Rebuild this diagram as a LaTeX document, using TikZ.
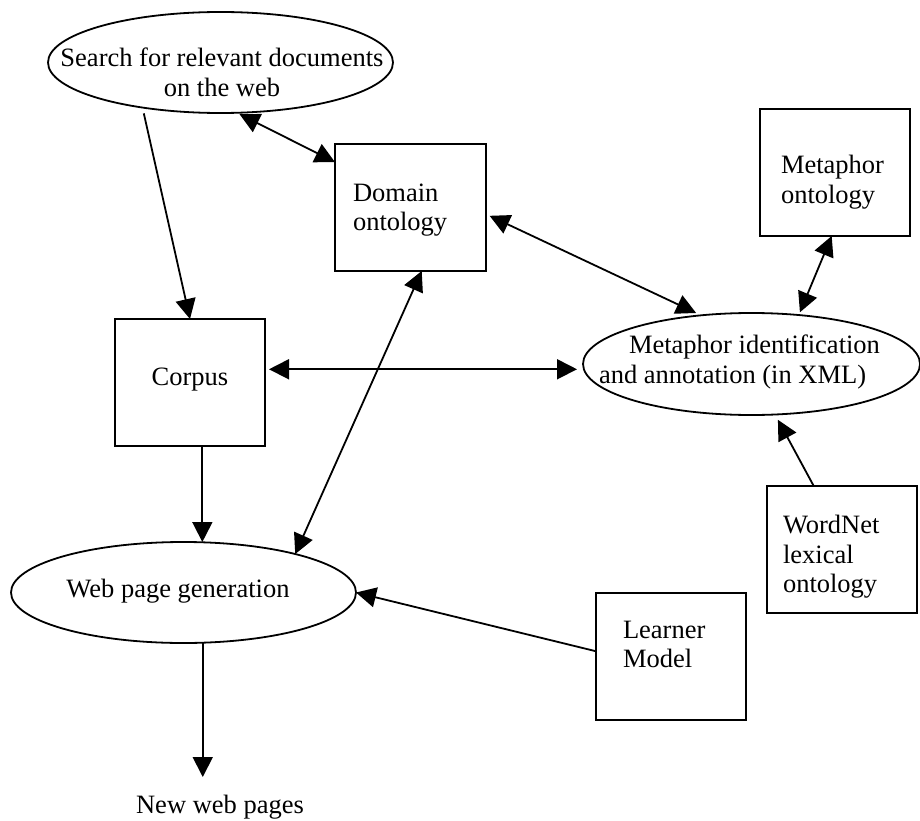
\documentclass[tikz,border=0pt]{standalone}
\usepackage{fontspec}
\setmainfont{Liberation Serif}
\usetikzlibrary{shapes.geometric,arrows.meta}
\tikzset{
  box/.style={draw, line width=1.8pt, rectangle, minimum width=150pt, minimum height=127pt, inner sep=0pt, outer sep=0pt},
  oval/.style={draw, line width=1.8pt, ellipse, inner sep=0pt, outer sep=0pt},
  txt/.style={inner sep=0pt, outer sep=0pt, font=\fontsize{26.5}{29.5}\selectfont},
  conn/.style={line width=1.8pt, -{Triangle[length=20pt,width=20pt]}},
  biconn/.style={line width=1.8pt, {Triangle[length=20pt,width=20pt]}-{Triangle[length=20pt,width=20pt]}},
}
\begin{document}
\begin{tikzpicture}[x=1pt,y=-1pt]
\useasboundingbox (0,0) rectangle (920,821);
% shapes
\node[oval, minimum width=345pt, minimum height=101pt] (search) at (220.5,62.5) {};
\node[box, minimum width=151pt] (dom) at (410.5,207.5) {};
\node[box] (mo) at (835,172.5) {};
\node[oval, minimum width=337pt, minimum height=102pt] (mi) at (751.5,364) {};
\node[box] (corpus) at (190,382.5) {};
\node[oval, minimum width=345pt, minimum height=101pt] (wpg) at (183.5,592.5) {};
\node[box] (lm) at (671,656.5) {};
\node[box] (wn) at (842,549.5) {};
% texts
\node[txt, anchor=base] (searcht1) at (222,67) {Search for relevant documents};
\node[txt, anchor=base] (searcht2) at (222,97) {on the web};
\node[txt, anchor=base west] (domt1) at (353,201) {Domain};
\node[txt, anchor=base west] (domt2) at (353,230) {ontology};
\node[txt, anchor=base west] (mot1) at (781,174) {Metaphor};
\node[txt, anchor=base west] (mot2) at (781,203) {ontology};
\node[txt, anchor=base west] (mit1) at (629,353) {Metaphor identification};
\node[txt, anchor=base west] (mit2) at (599,383) {and annotation (in XML)};
\node[txt, anchor=base] (corpust) at (190,385) {Corpus};
\node[txt, anchor=base] (wpgt) at (178,597) {Web page generation};
\node[txt, anchor=base west] (lmt1) at (623,638) {Learner};
\node[txt, anchor=base west] (lmt2) at (623,667) {Model};
\node[txt, anchor=base west] (wnt1) at (783,533) {WordNet};
\node[txt, anchor=base west] (wnt2) at (783,563) {lexical};
\node[txt, anchor=base west] (wnt3) at (783,592) {ontology};
\node[txt, anchor=base] (nwp) at (220,813) {New web pages};
\coordinate (nwptip) at (203,777);
% connectors
\draw[conn, shorten <=6pt] (search.210.4) -- (corpus.north);
\draw[biconn, shorten <=3pt] (search.288.2) -- (dom.149.5);
\draw[biconn, shorten <=4pt, shorten >=5.5pt] (dom.-5) -- (mi.136.6);
\draw[biconn, shorten >=3pt] (mo.267.3) -- (mi.46);
\draw[biconn, shorten <=4pt, shorten >=6pt] (corpus.10.6) -- (corpus.10.6 -| mi.west);
\draw[biconn] (dom.280.3) -- (wpg.19);
\draw[conn] (corpus.281.6) -- (corpus.281.6 |- wpg.north);
\draw[conn] (lm.176.6) -- (wpg.east);
\draw[conn, shorten >=6pt] (wn.114.5) -- (mi.295);
\draw[conn] (wpg.291.2) -- (wpg.291.2 |- nwptip);
\end{tikzpicture}
\end{document}
